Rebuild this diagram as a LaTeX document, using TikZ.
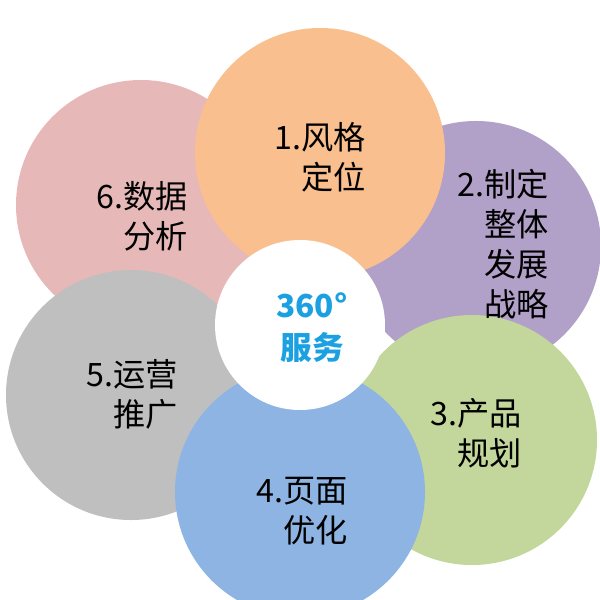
\documentclass[tikz,border=0pt]{standalone}
\usepackage{fontspec}
\setmainfont{Noto Sans CJK SC}
\definecolor{cOne}{HTML}{F9BF8F}
\definecolor{cTwo}{HTML}{B1A0C7}
\definecolor{cThree}{HTML}{C3D69B}
\definecolor{cFour}{HTML}{8DB4E2}
\definecolor{cFive}{HTML}{BFBFBF}
\definecolor{cSix}{HTML}{E6B9B8}
\definecolor{cBlue}{HTML}{1BA1E2}
\begin{document}
\begin{tikzpicture}[x=0.03cm,y=-0.03cm,
  petal/.style={circle,minimum size=7.5cm,inner sep=0pt},
  lbl/.style={align=right,font=\fontsize{27.5}{34}\selectfont}]
\useasboundingbox (0,0) rectangle (600,600);
\clip (0,0) rectangle (600,600);
\node[petal,fill=cTwo] (p2) at (476,246) {};
\node[petal,fill=cThree] (p3) at (472,440) {};
\node[petal,fill=cSix] (p6) at (141,205) {};
\node[petal,fill=cFive] (p5) at (131,395) {};
\node[petal,fill=cFour] (p4) at (300,492) {};
\node[petal,fill=cOne] (p1) at (320,153) {};
\node[circle,fill=white,minimum size=5.1cm] (mid) at (300,325) {};
\node[align=center,text=cBlue,font=\bfseries\fontsize{27}{36}\selectfont] at (312,328) {360°\\服务};
\node[lbl] at (320,157) {1.风格\\定位};
\node[lbl] at (503,244) {2.制定\\整体\\发展\\战略};
\node[lbl] at (476,433) {3.产品\\规划};
\node[lbl] at (302,511) {4.页面\\优化};
\node[lbl] at (132,394) {5.运营\\推广};
\node[lbl] at (142,216) {6.数据\\分析};
\end{tikzpicture}
\end{document}
